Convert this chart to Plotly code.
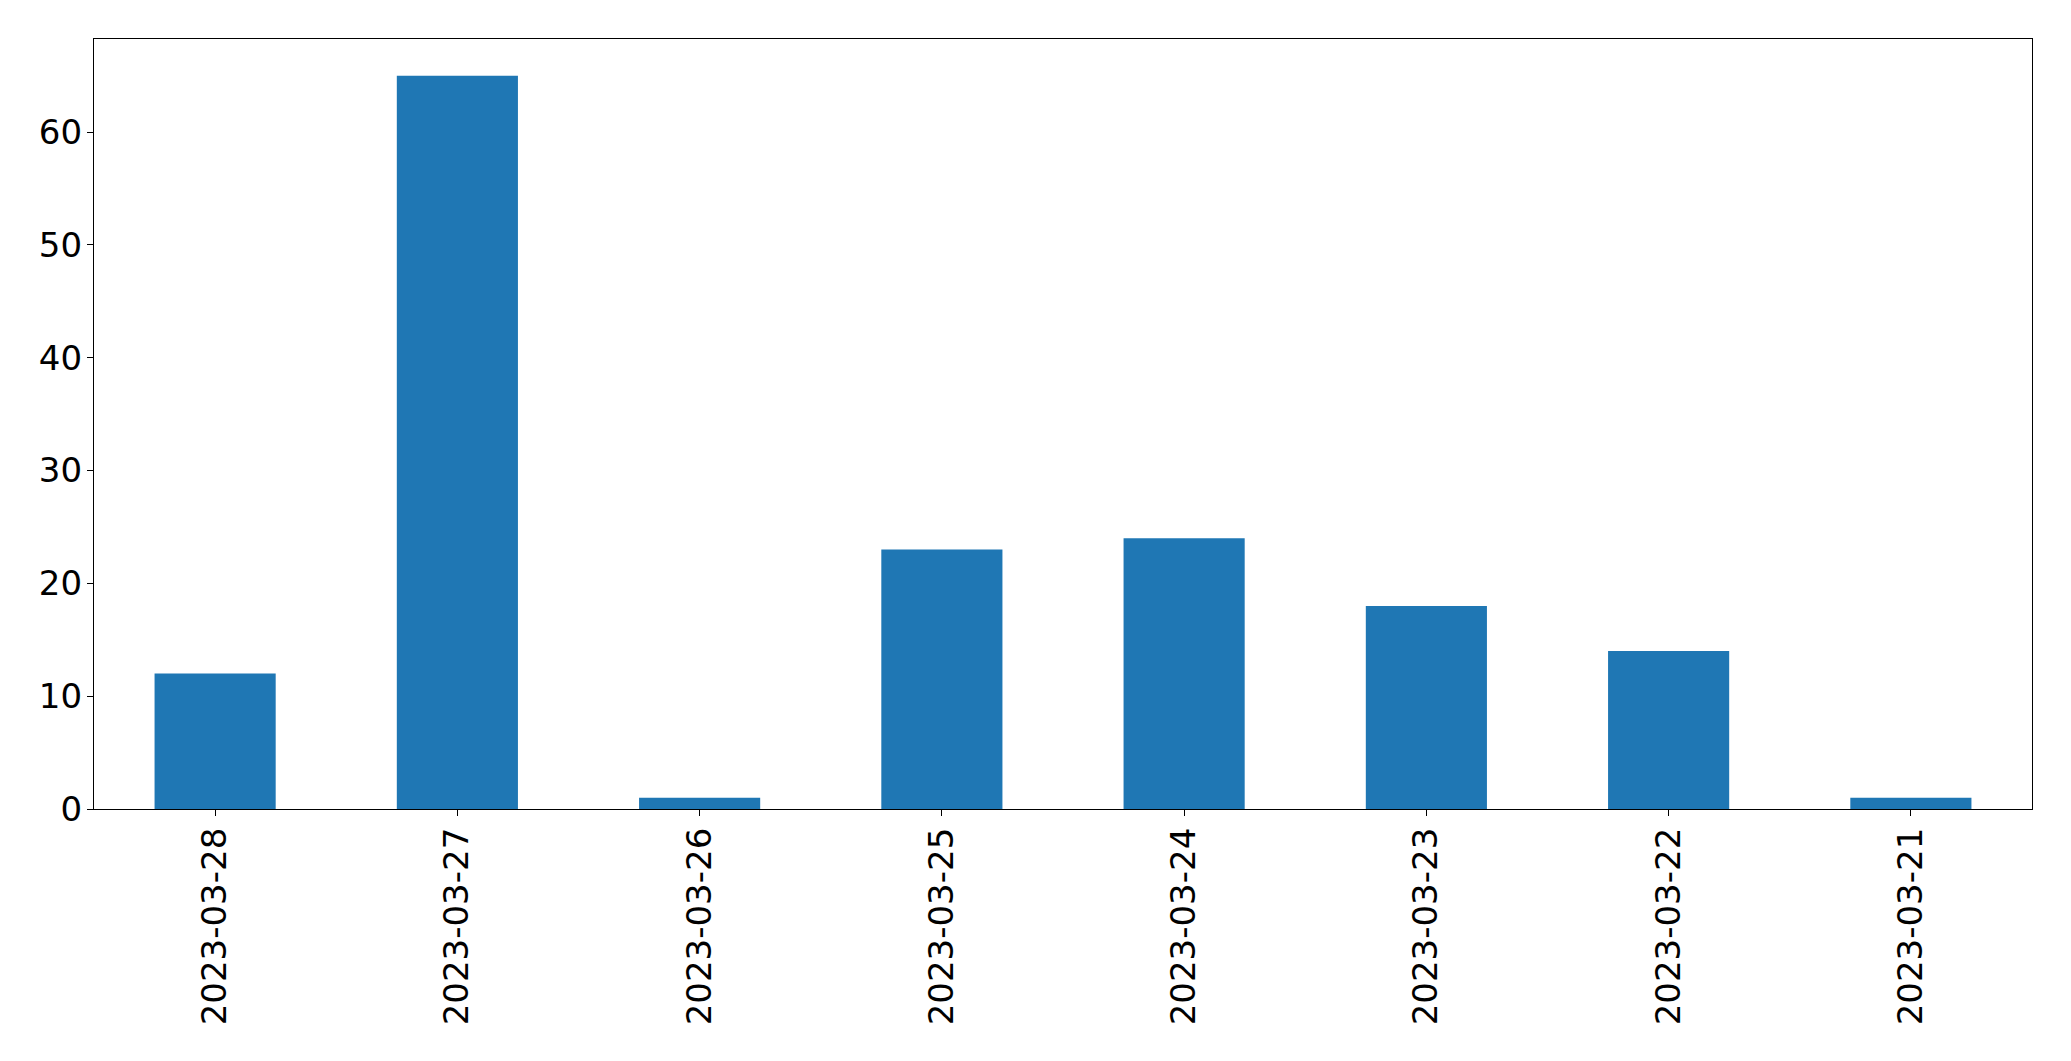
import plotly.graph_objects as go

dates = ["2023-03-28", "2023-03-27", "2023-03-26", "2023-03-25",
         "2023-03-24", "2023-03-23", "2023-03-22", "2023-03-21"]
counts = [12, 65, 1, 23, 24, 18, 14, 1]
y_ticks = [0, 10, 20, 30, 40, 50, 60]

fig = go.Figure(go.Bar(x=dates, y=counts, marker_color="#1f77b4",
                       marker_line_width=0, width=0.5))

font = dict(family="DejaVu Sans", size=34, color="black")
fig.update_layout(
    width=2055, height=1045, autosize=False,
    margin=dict(l=86, r=31, t=31, b=244, pad=0, autoexpand=False),
    plot_bgcolor="white", paper_bgcolor="white",
    showlegend=False, font=font, bargap=0.5,
)
fig.update_xaxes(type="category", range=[-0.5, 7.5], tickangle=-90,
                 showline=True, linecolor="black", linewidth=1.3, mirror=True,
                 ticks="outside", ticklen=6, tickwidth=1.3, tickcolor="black",
                 showgrid=False, zeroline=False, tickfont=font,
                 ticklabelstandoff=-2, automargin=False)
fig.update_yaxes(range=[0, 68.25], tickvals=y_ticks,
                 showline=True, linecolor="black", linewidth=1.3, mirror=True,
                 ticks="outside", ticklen=6, tickwidth=1.3, tickcolor="black",
                 showgrid=False, zeroline=False, tickfont=font,
                 ticklabelstandoff=-2, automargin=False)

fig.write_html("out.html")
